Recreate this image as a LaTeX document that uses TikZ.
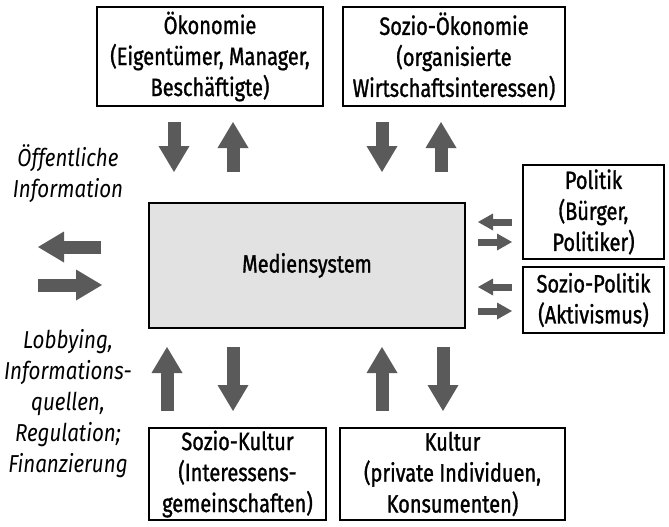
\documentclass[tikz,border=0pt]{standalone}
\usepackage{fontspec}
\setmainfont{Fira Sans}[FakeStretch=0.8, FakeBold=1.2]
\newfontfamily\notefont{Fira Sans}[FakeStretch=0.84]
\usetikzlibrary{arrows.meta}
\definecolor{arrgray}{HTML}{5A5A5A}
\definecolor{boxgray}{HTML}{E2E2E2}
\tikzset{
  box/.style={draw=black, line width=1.3pt, align=center, inner sep=0pt, font=\fontsize{25}{31}\selectfont},
  note/.style={align=center, inner sep=0pt, font=\notefont\fontsize{24.5}{31}\selectfont\itshape},
  bigarr/.style={draw=arrgray, line width=13pt, -{Triangle[width=31pt,length=26pt,line width=0pt]}},
  smallarr/.style={draw=arrgray, line width=7pt, -{Triangle[width=17pt,length=15pt,line width=0pt]}}
}
\begin{document}
\begin{tikzpicture}[x=1pt,y=-1pt]
\useasboundingbox (0,0) rectangle (669,527);
% boxes
\node[box, minimum width=226pt, minimum height=99pt] (oek) at (210,56.5) {Ökonomie\\(Eigentümer, Manager,\\Beschäftigte)};
\node[box, minimum width=222pt, minimum height=99pt] (soek) at (454,56.5) {Sozio-Ökonomie\\(organisierte\\Wirtschaftsinteressen)};
\node[box, fill=boxgray, line width=2pt, minimum width=316pt, minimum height=125pt] (med) at (307,265.5) {Mediensystem};
\node[box, minimum width=141pt, minimum height=94pt] (pol) at (593.5,212) {Politik\\(Bürger,\\Politiker)};
\node[box, minimum width=141pt, minimum height=66pt] (spol) at (593.5,300) {Sozio-Politik\\(Aktivismus)};
\node[box, minimum width=177pt, minimum height=92pt] (skul) at (237.5,474) {Sozio-Kultur\\(Interessens-\\gemeinschaften)};
\node[box, minimum width=225pt, minimum height=92pt] (kul) at (452.5,474) {Kultur\\(private Individuen,\\Konsumenten)};
% notes
\node[note] (info) at (68,174) {Öffentliche\\Information};
\node[note] (lobby) at (68,404) {Lobbying,\\Informations-\\quellen,\\Regulation;\\Finanzierung};
% coordinates for arrows
\coordinate (t1a) at (174,122); \coordinate (t1b) at (174,172);
\coordinate (t2a) at (233,172); \coordinate (t2b) at (233,122);
\coordinate (t3a) at (382,122); \coordinate (t3b) at (382,172);
\coordinate (t4a) at (441,172); \coordinate (t4b) at (441,122);
\coordinate (b1a) at (167,411); \coordinate (b1b) at (167,347);
\coordinate (b2a) at (233,347); \coordinate (b2b) at (233,411);
\coordinate (b3a) at (382,411); \coordinate (b3b) at (382,347);
\coordinate (b4a) at (443,347); \coordinate (b4b) at (443,411);
\coordinate (l1a) at (101,247); \coordinate (l1b) at (38,247);
\coordinate (l2a) at (38,285); \coordinate (l2b) at (102,285);
\coordinate (r1a) at (512,222); \coordinate (r1b) at (478,222);
\coordinate (r2a) at (478,242); \coordinate (r2b) at (512,242);
\coordinate (r3a) at (512,287); \coordinate (r3b) at (478,287);
\coordinate (r4a) at (478,311); \coordinate (r4b) at (512,311);
% arrows
\foreach \a in {t1,t2,t3,t4,b1,b2,b3,b4,l1,l2}{\draw[bigarr] (\a a) -- (\a b);}
\foreach \a in {r1,r2,r3,r4}{\draw[smallarr] (\a a) -- (\a b);}
\end{tikzpicture}
\end{document}
